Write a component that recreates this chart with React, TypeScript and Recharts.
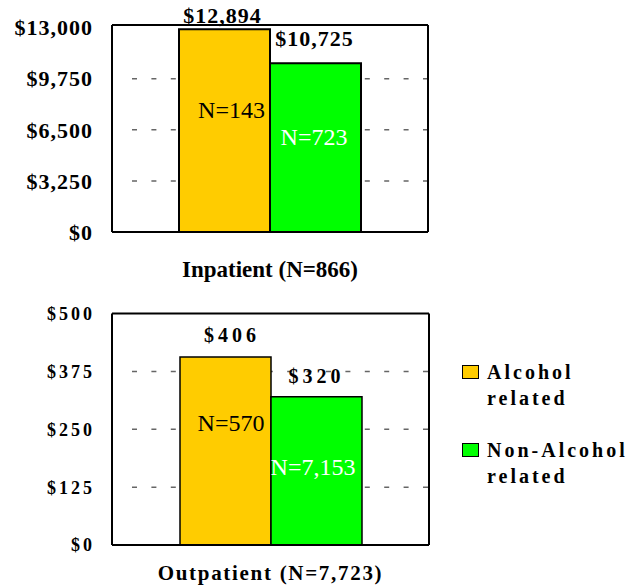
import React from "react";
import { BarChart, Bar, XAxis, YAxis, CartesianGrid, LabelList, Legend } from "recharts";

// ---------- data ----------
const seriesNames = ["Alcohol related", "Non-Alcohol related"];
const seriesColors = ["#FFCC00", "#00FF00"];

const inpatientCategory = ["Inpatient (N=866)"];
const inpatientAlcohol = [12894];
const inpatientNonAlcohol = [10725];
const inpatientAlcoholN = [143];
const inpatientNonAlcoholN = [723];
const inpatientTicks = [0, 3250, 6500, 9750, 13000];

const outpatientCategory = ["Outpatient (N=7,723)"];
const outpatientAlcohol = [406];
const outpatientNonAlcohol = [320];
const outpatientAlcoholN = [570];
const outpatientNonAlcoholN = [7153];
const outpatientTicks = [0, 125, 250, 375, 500];

// ---------- helpers ----------
const FONT = "'Liberation Serif', 'Times New Roman', serif";
const money = (v: number) => "$" + Number(v).toLocaleString("en-US");
const nText = (v: number) => "N=" + Number(v).toLocaleString("en-US");
const GRID_DASH = ["0 20", ...Array(16).fill("5 14.4")].join(" ");

const buildRows = (cats: string[], a: number[], b: number[], an: number[], bn: number[]) =>
  cats.map((c, i) => ({ cat: c, alcohol: a[i], nonAlcohol: b[i], alcoholN: an[i], nonAlcoholN: bn[i] }));

type LabelOpts = { dx: number; dy: number; size: number; ls: number; bold: boolean; fill: string; fmt: (v: number) => string };

const makeLabel = (o: LabelOpts) => (props: any) => {
  const { x, y, width, value } = props;
  return (
    <text
      x={Number(x) + Number(width) / 2 + o.dx + o.ls / 2}
      y={Number(y) + o.dy}
      textAnchor="middle"
      dominantBaseline="central"
      fontFamily={FONT}
      fontSize={o.size}
      fontWeight={o.bold ? "bold" : "normal"}
      letterSpacing={o.ls}
      fill={o.fill}
    >
      {o.fmt(value)}
    </text>
  );
};

const LegendContent = (props: any) => {
  const payload = props.payload || [];
  return (
    <div style={{ fontFamily: FONT, fontWeight: "bold", fontSize: 20, letterSpacing: 3, lineHeight: "26px", color: "#000" }}>
      {payload.map((e: any, i: number) => (
        <div key={i} style={{ display: "flex", alignItems: "flex-start", marginBottom: i === 0 ? 26 : 0 }}>
          <div style={{ width: 15, height: 12, background: e.color, border: "1.5px solid #000", marginTop: 6, marginRight: 8, flex: "none" }} />
          <div style={{ width: 150 }}>{e.value}</div>
        </div>
      ))}
    </div>
  );
};

type PanelProps = {
  rows: any[];
  ticks: number[];
  domainMax: number;
  height: number;
  marginTop: number;
  marginRight: number;
  xAxisHeight: number;
  xTick: any;
  xTickMargin: number;
  yTick: any;
  yTickMargin: number;
  barGapCat: number;
  barStroke: number;
  valueA: LabelOpts;
  valueB: LabelOpts;
  nA: LabelOpts;
  nB: LabelOpts;
  legend?: boolean;
};

const Panel = (p: PanelProps) => {
  const mid = p.ticks.slice(1, -1);
  return (
    <BarChart
      width={631}
      height={p.height}
      data={p.rows}
      margin={{ top: p.marginTop, right: p.marginRight, bottom: 0, left: 0 }}
      barCategoryGap={p.barGapCat}
      barGap={0}
    >
      <CartesianGrid vertical={false} horizontalValues={mid} stroke="#666" strokeWidth={1.5} strokeDasharray={GRID_DASH} />
      <XAxis
        dataKey="cat"
        height={p.xAxisHeight}
        axisLine={{ stroke: "#000", strokeWidth: 2 }}
        tickLine={false}
        tickSize={0}
        tickMargin={p.xTickMargin}
        tick={p.xTick}
      />
      <XAxis xAxisId="top" dataKey="cat" orientation="top" height={1} axisLine={{ stroke: "#000", strokeWidth: 2 }} tick={false} tickLine={false} />
      <YAxis
        width={112}
        domain={[0, p.domainMax]}
        ticks={p.ticks}
        interval={0}
        tickFormatter={money}
        axisLine={{ stroke: "#000", strokeWidth: 2 }}
        tickLine={false}
        tickSize={0}
        tickMargin={p.yTickMargin}
        tick={p.yTick}
      />
      <YAxis
        yAxisId="right"
        orientation="right"
        width={1}
        mirror
        domain={[0, p.domainMax]}
        ticks={p.ticks}
        interval={0}
        axisLine={{ stroke: "#000", strokeWidth: 2 }}
        tick={false}
        tickLine={{ stroke: "#000", strokeWidth: 1.5 }}
        tickSize={3}
      />
      <Bar dataKey="alcohol" name={seriesNames[0]} fill={seriesColors[0]} stroke="#000" strokeWidth={p.barStroke} isAnimationActive={false}>
        <LabelList dataKey="alcohol" content={makeLabel(p.valueA)} />
        <LabelList dataKey="alcoholN" content={makeLabel(p.nA)} />
      </Bar>
      <Bar dataKey="nonAlcohol" name={seriesNames[1]} fill={seriesColors[1]} stroke="#000" strokeWidth={p.barStroke} isAnimationActive={false}>
        <LabelList dataKey="nonAlcohol" content={makeLabel(p.valueB)} />
        <LabelList dataKey="nonAlcoholN" content={makeLabel(p.nB)} />
      </Bar>
      {p.legend ? (
        <Legend
          layout="vertical"
          align="center"
          verticalAlign="middle"
          content={LegendContent}
          wrapperStyle={{ left: 462, top: 69, width: 169 }}
        />
      ) : null}
    </BarChart>
  );
};

const topTick = { fill: "#000", fontFamily: FONT, fontWeight: "bold", fontSize: 22, letterSpacing: 1 };
const bottomYTick = { fill: "#000", fontFamily: FONT, fontWeight: "bold", fontSize: 18, letterSpacing: 3 };
const topXTick = { fill: "#000", fontFamily: FONT, fontWeight: "bold", fontSize: 23 };
const bottomXTick = { fill: "#000", fontFamily: FONT, fontWeight: "bold", fontSize: 21, letterSpacing: 1.7 };

export default function App() {
  const inRows = buildRows(inpatientCategory, inpatientAlcohol, inpatientNonAlcohol, inpatientAlcoholN, inpatientNonAlcoholN);
  const outRows = buildRows(outpatientCategory, outpatientAlcohol, outpatientNonAlcohol, outpatientAlcoholN, outpatientNonAlcoholN);
  return (
    <div style={{ position: "absolute", left: 0, top: 0, width: 631, height: 588, background: "#fff" }}>
      <div style={{ position: "absolute", left: 0, top: 0 }}>
        <Panel
          rows={inRows}
          ticks={inpatientTicks}
          domainMax={13160}
          height={290}
          marginTop={24}
          marginRight={203}
          xAxisHeight={58}
          xTick={topXTick}
          xTickMargin={29}
          yTick={topTick}
          yTickMargin={19}
          barGapCat={67}
          barStroke={2}
          valueA={{ dx: -2.5, dy: -14, size: 22, ls: 1, bold: true, fill: "#000", fmt: money }}
          valueB={{ dx: -1.5, dy: -25, size: 22, ls: 1, bold: true, fill: "#000", fmt: money }}
          nA={{ dx: 7, dy: 81, size: 24, ls: 0, bold: false, fill: "#000", fmt: nText }}
          nB={{ dx: -1.5, dy: 74, size: 24, ls: 0, bold: false, fill: "#fff", fmt: nText }}
        />
      </div>
      <div style={{ position: "absolute", left: 0, top: 290 }}>
        <Panel
          rows={outRows}
          ticks={outpatientTicks}
          domainMax={500}
          height={298}
          marginTop={22.5}
          marginRight={202}
          xAxisHeight={43}
          xTick={bottomXTick}
          xTickMargin={20}
          yTick={bottomYTick}
          yTickMargin={17}
          barGapCat={68}
          barStroke={1.5}
          valueA={{ dx: 4.5, dy: -22, size: 20, ls: 4, bold: true, fill: "#000", fmt: money }}
          valueB={{ dx: -2, dy: -21, size: 20, ls: 4, bold: true, fill: "#000", fmt: money }}
          nA={{ dx: 5.5, dy: 66, size: 24, ls: 0, bold: false, fill: "#000", fmt: nText }}
          nB={{ dx: -3.5, dy: 70, size: 24, ls: 0, bold: false, fill: "#fff", fmt: nText }}
          legend
        />
      </div>
    </div>
  );
}
